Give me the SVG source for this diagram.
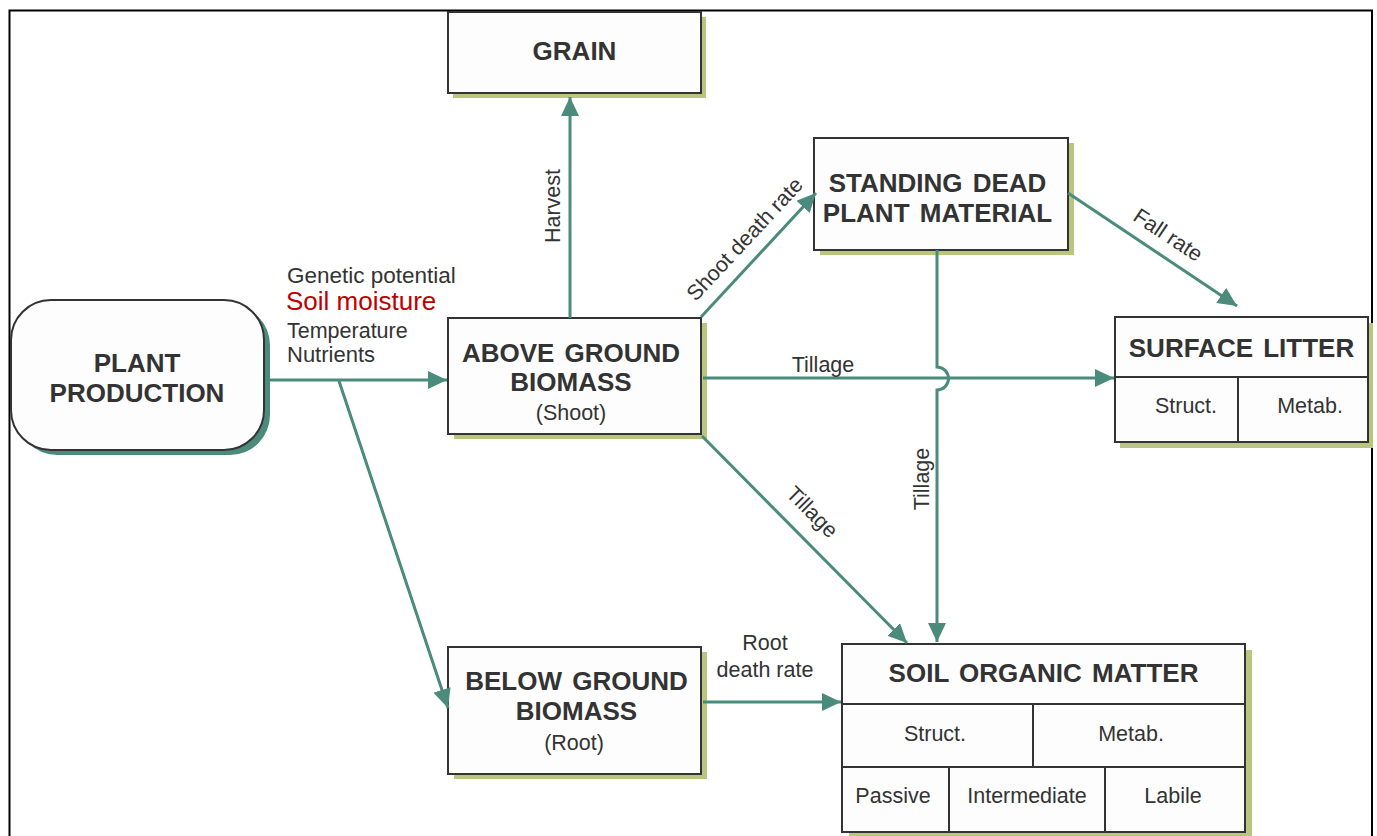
<svg xmlns="http://www.w3.org/2000/svg" width="1377" height="836" viewBox="0 0 1377 836">
<defs>
<style>
.box{fill:#fdfdfd;stroke:#333;stroke-width:2}
.sh{fill:#bac67f}
.div{stroke:#333;stroke-width:2;fill:none}
.t{font-family:"Liberation Sans",Arial,sans-serif;fill:#333}
.b{font-weight:bold;font-size:26px;text-anchor:middle;word-spacing:3px}
.r{font-size:21.5px}
.c{text-anchor:middle}
.ln{fill:none;stroke:#4b8b7b;stroke-width:3}
</style>
<marker id="ah" markerUnits="userSpaceOnUse" markerWidth="20" markerHeight="20" refX="19" refY="9" orient="auto">
<path d="M0,0 L19,9 L0,18 z" fill="#4b8b7b"/>
</marker>
</defs>
<rect x="0" y="0" width="1377" height="836" fill="#fff"/>
<rect x="9.5" y="10.5" width="1362.5" height="850" fill="none" stroke="#000" stroke-width="2"/>

<g id="plant-production">
<rect x="17" y="305" width="253" height="150" rx="40" fill="#4b8b7b"/>
<rect x="11" y="300" width="253" height="150" rx="40" class="box"/>
<text class="t b" x="137" y="372">PLANT</text>
<text class="t b" x="137" y="402">PRODUCTION</text>
</g>

<g id="grain">
<rect x="453" y="17" width="253" height="81" class="sh"/>
<rect x="448" y="12" width="253" height="81" class="box"/>
<text class="t b" x="574.5" y="60">GRAIN</text>
</g>

<g id="above-ground">
<rect x="454" y="323" width="253" height="116" class="sh"/>
<rect x="448" y="318" width="253" height="116" class="box"/>
<text class="t b" x="571" y="362">ABOVE GROUND</text>
<text class="t b" x="571" y="391">BIOMASS</text>
<text class="t r c" x="571" y="420">(Shoot)</text>
</g>

<g id="below-ground">
<rect x="454" y="652" width="253" height="127" class="sh"/>
<rect x="448" y="647" width="253" height="127" class="box"/>
<text class="t b" x="576.5" y="690">BELOW GROUND</text>
<text class="t b" x="576.5" y="720">BIOMASS</text>
<text class="t r c" x="574" y="750">(Root)</text>
</g>

<g id="standing-dead">
<rect x="820" y="143" width="254" height="112" class="sh"/>
<rect x="814" y="138" width="254" height="112" class="box"/>
<text class="t b" x="937.5" y="192">STANDING DEAD</text>
<text class="t b" x="937.5" y="222">PLANT MATERIAL</text>
</g>

<g id="surface-litter">
<rect x="1120" y="323" width="253" height="125" class="sh"/>
<rect x="1115" y="317" width="253" height="125" class="box"/>
<line x1="1115" y1="377" x2="1368" y2="377" class="div"/>
<line x1="1238" y1="377" x2="1238" y2="442" class="div"/>
<text class="t b" x="1241.5" y="357">SURFACE LITTER</text>
<text class="t r c" x="1186" y="413">Struct.</text>
<text class="t r c" x="1310" y="413">Metab.</text>
</g>

<g id="soil-organic-matter">
<rect x="849" y="650" width="403" height="188" class="sh"/>
<rect x="842" y="644" width="403" height="188" class="box"/>
<line x1="842" y1="704" x2="1245" y2="704" class="div"/>
<line x1="842" y1="767" x2="1245" y2="767" class="div"/>
<line x1="1033" y1="704" x2="1033" y2="767" class="div"/>
<line x1="949" y1="767" x2="949" y2="832" class="div"/>
<line x1="1105" y1="767" x2="1105" y2="832" class="div"/>
<text class="t b" x="1043.5" y="682">SOIL ORGANIC MATTER</text>
<text class="t r c" x="935" y="741">Struct.</text>
<text class="t r c" x="1131" y="741">Metab.</text>
<text class="t r c" x="893" y="803">Passive</text>
<text class="t r c" x="1027" y="803">Intermediate</text>
<text class="t r c" x="1173" y="803">Labile</text>
</g>

<g id="connectors">
<line x1="266" y1="380" x2="447" y2="380" class="ln" marker-end="url(#ah)"/>
<line x1="339" y1="381" x2="448" y2="708" class="ln" marker-end="url(#ah)"/>
<line x1="570" y1="318" x2="570" y2="97" class="ln" marker-end="url(#ah)"/>
<line x1="701" y1="317" x2="816" y2="193" class="ln" marker-end="url(#ah)"/>
<line x1="1068" y1="193" x2="1237" y2="306" class="ln" marker-end="url(#ah)"/>
<line x1="703" y1="378" x2="1114" y2="378" class="ln" marker-end="url(#ah)"/>
<path d="M937,250 V367 A11.5,11.5 0 0 1 937,390 V642" class="ln" marker-end="url(#ah)"/>
<line x1="702" y1="436" x2="907" y2="643" class="ln" marker-end="url(#ah)"/>
<line x1="703" y1="702" x2="841" y2="702" class="ln" marker-end="url(#ah)"/>

<text class="t" x="287" y="283" style="font-size:22.5px">Genetic potential</text>
<text x="286" y="310" style="font-family:'Liberation Sans',Arial,sans-serif;font-size:26px;fill:#c00000">Soil moisture</text>
<text class="t r" x="287" y="338">Temperature</text>
<text class="t" x="287" y="362" style="font-size:22px">Nutrients</text>
<text class="t r c" transform="translate(560,206) rotate(-90)">Harvest</text>
<text class="t r c" transform="translate(750,244) rotate(-47)">Shoot death rate</text>
<text class="t r c" transform="translate(1164,241) rotate(33.6)">Fall rate</text>
<text class="t r c" x="823" y="372">Tillage</text>
<text class="t r c" transform="translate(929,479) rotate(-90)">Tillage</text>
<text class="t r c" transform="translate(807,517) rotate(45)">Tillage</text>
<text class="t r c" x="765" y="650">Root</text>
<text class="t r c" x="765" y="677">death rate</text>
</g>
</svg>
